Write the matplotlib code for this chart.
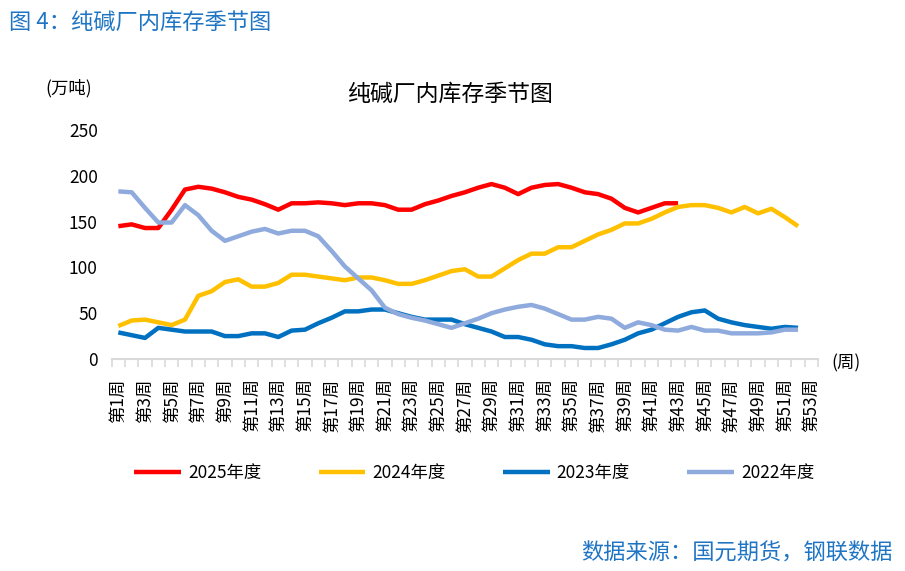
import matplotlib
matplotlib.use('Agg')
import matplotlib.pyplot as plt
import numpy as np

plt.rcParams['font.family'] = ['Noto Sans CJK SC', 'DejaVu Sans']

# weekly inventory, 万吨
weeks = ['第%d周' % i for i in range(1, 54)]
inv_2025 = [145, 147, 143, 143, 163, 185, 188, 186, 182, 177,
            174, 169, 163, 170, 170, 171, 170, 168, 170, 170,
            168, 163, 163, 169, 173, 178, 182, 187, 191, 187,
            180, 187, 190, 191, 187, 182, 180, 175, 165, 160,
            165, 170, 170]
inv_2024 = [36, 42, 43, 40, 37, 43, 69, 74, 84, 87,
            79, 79, 83, 92, 92, 90, 88, 86, 89, 89,
            86, 82, 82, 86, 91, 96, 98, 90, 90, 99,
            108, 115, 115, 122, 122, 129, 136, 141, 148, 148,
            153, 160, 166, 168, 168, 165, 160, 166, 159, 164, 155, 145]
inv_2023 = [29, 26, 23, 34, 32, 30, 30, 30, 25, 25,
            28, 28, 24, 31, 32, 39, 45, 52, 52, 54,
            54, 50, 46, 43, 43, 43, 38, 34, 30, 24,
            24, 21, 16, 14, 14, 12, 12, 16, 21, 28,
            32, 39, 46, 51, 53, 44, 40, 37, 35, 33, 35, 34]
inv_2022 = [183, 182, 165, 149, 149, 168, 157, 140, 129, 134,
            139, 142, 137, 140, 140, 134, 118, 101, 88, 75,
            56, 49, 45, 42, 38, 34, 39, 44, 50, 54,
            57, 59, 55, 49, 43, 43, 46, 44, 34, 40,
            37, 32, 31, 35, 31, 31, 28, 28, 28, 29, 32, 32]

series = [('2025年度', inv_2025, '#FF0000'),
          ('2024年度', inv_2024, '#FFC000'),
          ('2023年度', inv_2023, '#0070C0'),
          ('2022年度', inv_2022, '#8FAADC')]

fig = plt.figure(figsize=(9.05, 5.71), dpi=100)
ax = fig.add_axes([0.1234, 0.3713, 0.7805, 0.401])

x = np.arange(len(weeks))
for name, vals, col in series:
    ax.plot(x[:len(vals)], vals, color=col, lw=3.2, label=name,
            solid_joinstyle='round', solid_capstyle='butt')

ax.set_xlim(-0.5, len(weeks) - 0.5)
ax.set_ylim(0, 250)
ax.set_yticks(range(0, 251, 50))
ax.tick_params(axis='y', length=0, pad=10, labelsize=12.5)

ax.set_xticks(x[::2])
ax.set_xticklabels(weeks[::2], rotation=90, fontsize=12.5, va='top', ha='center')
ax.set_xticks(np.arange(-0.5, len(weeks), 1), minor=True)
ax.tick_params(axis='x', which='major', length=0, pad=14)
ax.tick_params(axis='x', which='minor', length=6, width=1.2, color='#D9D9D9')

for s in ['left', 'right', 'top']:
    ax.spines[s].set_visible(False)
ax.spines['bottom'].set_color('#D9D9D9')
ax.spines['bottom'].set_linewidth(1.5)

fig.text(0.010, 0.961, '图 4：纯碱厂内库存季节图', fontsize=16, color='#1F75C4',
         ha='left', va='center')
fig.text(0.497, 0.834, '纯碱厂内库存季节图', fontsize=16.5, ha='center', va='center')
fig.text(0.076, 0.846, '(万吨)', fontsize=12.5, ha='center', va='center')
fig.text(0.935, 0.364, '(周)', fontsize=12.5, ha='center', va='center')
fig.text(0.986, 0.032, '数据来源：国元期货，钢联数据', fontsize=16, color='#1F75C4',
         ha='right', va='center')

fig.legend(loc='center', bbox_to_anchor=(0.524, 0.172), ncol=4, frameon=False,
           fontsize=12.5, handlelength=2.7, handletextpad=0.4, columnspacing=3.3)

fig.savefig('out.png', dpi=100)
